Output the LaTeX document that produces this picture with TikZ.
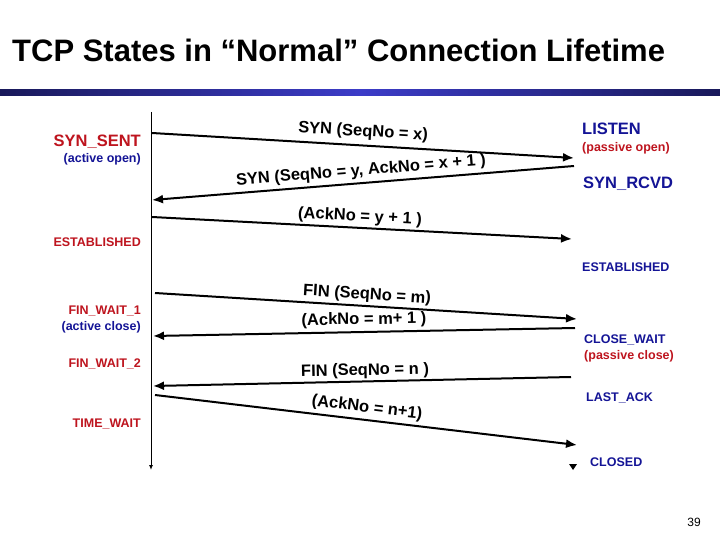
\documentclass[tikz,border=0pt]{standalone}
\usepackage{fontspec}
\setmainfont{Liberation Sans}
\usetikzlibrary{arrows.meta}
\definecolor{sred}{RGB}{190,20,30}
\definecolor{sblue}{RGB}{20,20,150}
\definecolor{navy}{RGB}{25,25,90}
\definecolor{bblue}{RGB}{60,60,200}
\begin{document}
\begin{tikzpicture}[x=1pt,y=-1pt,
  lst/.style={anchor=east,font=\bfseries\fontsize{12.5}{13}\selectfont,inner sep=0},
  rst/.style={anchor=west,font=\bfseries\fontsize{12.5}{13}\selectfont,inner sep=0},
  big/.style={font=\bfseries\fontsize{16.5}{17}\selectfont},
  msg/.style={font=\bfseries\fontsize{16.5}{17}\selectfont,inner sep=0},
  arr/.style={line width=2pt,-{Latex[length=11pt,width=9pt]}},
  tl/.style={line width=1pt,-{Latex[length=5pt,width=4pt]}}]
\useasboundingbox[fill=white] (0,0) rectangle (720,540);
\node[anchor=west,inner sep=0,font=\bfseries\fontsize{31}{34}\selectfont] (title) at (12,50) {TCP States in “Normal” Connection Lifetime};
\shade[left color=navy,right color=navy,middle color=bblue] (0,90) rectangle (720,96);
% timelines
\coordinate (lt) at (151,112); \coordinate (lb) at (151,470);
\draw[tl] (lt) -- (lb);
\fill (569,464) -- (577,464) -- (573,470) -- cycle;
% endpoints
\coordinate (a1) at (152,133); \coordinate (b1) at (574,158);
\coordinate (b2) at (574,166); \coordinate (a2) at (152,200);
\coordinate (a3) at (152,217); \coordinate (b3) at (572,239);
\coordinate (a4) at (155,293); \coordinate (b4) at (577,319);
\coordinate (b5) at (575,328); \coordinate (a5) at (153,336);
\coordinate (b6) at (571,377); \coordinate (a6) at (153,386);
\coordinate (a7) at (155,395); \coordinate (b7) at (577,445);
\draw[arr] (a1) -- (b1);
\draw[arr] (b2) -- (a2);
\draw[arr] (a3) -- (b3);
\draw[arr] (a4) -- (b4);
\draw[arr] (b5) -- (a5);
\draw[arr] (b6) -- (a6);
\draw[arr] (a7) -- (b7);
% messages
\node[msg,rotate=-3.4] (m1) at (363,132) {SYN (SeqNo = x)};
\node[msg,rotate=4.6] (m2) at (361,171) {SYN (SeqNo = y, AckNo = x + 1 )};
\node[msg,rotate=-3] (m3) at (360,217) {(AckNo = y + 1 )};
\node[msg,rotate=-3.6] (m4) at (367,295) {FIN (SeqNo = m)};
\node[msg,rotate=1] (m5) at (364,320) {(AckNo = m+ 1 )};
\node[msg,rotate=1.2] (m6) at (365,371) {FIN (SeqNo = n )};
\node[msg,rotate=-6.8] (m7) at (367,408) {(AckNo = n+1)};
% left states
\node[lst,big,text=sred] (ss) at (141,142) {SYN\_SENT};
\node[lst,text=sblue] (ao) at (141,159) {(active open)};
\node[lst,text=sred] (e1) at (141,242) {ESTABLISHED};
\node[lst,text=sred] (f1) at (141,311) {FIN\_WAIT\_1};
\node[lst,text=sblue] (ac) at (141,327) {(active close)};
\node[lst,text=sred] (f2) at (141,364) {FIN\_WAIT\_2};
\node[lst,text=sred] (tw) at (141,424) {TIME\_WAIT};
% right states
\node[rst,big,text=sblue] (li) at (582,129) {LISTEN};
\node[rst,text=sred] (po) at (582,148) {(passive open)};
\node[rst,big,text=sblue] (sr) at (583,184) {SYN\_RCVD};
\node[rst,text=sblue] (e2) at (582,267) {ESTABLISHED};
\node[rst,text=sblue] (cw) at (584,340) {CLOSE\_WAIT};
\node[rst,text=sred] (pc) at (584,356) {(passive close)};
\node[rst,text=sblue] (la) at (586,398) {LAST\_ACK};
\node[rst,text=sblue] (cl) at (590,462) {CLOSED};
\node[inner sep=0,font=\fontsize{12}{13}\selectfont] (pg) at (694,522) {39};
\end{tikzpicture}
\end{document}
